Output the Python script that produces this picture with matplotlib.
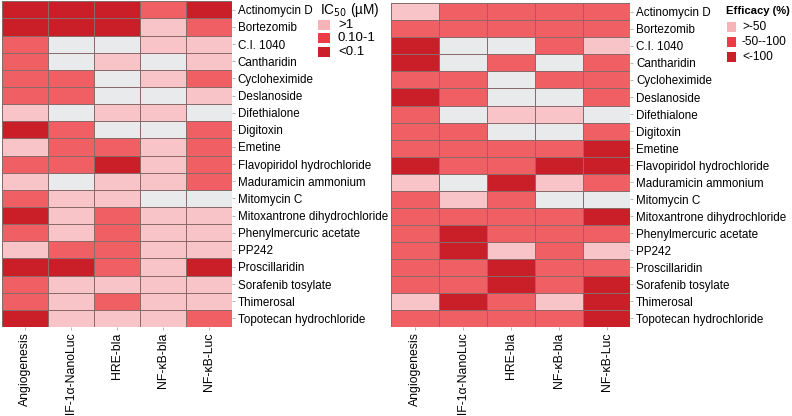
import numpy as np
import matplotlib.pyplot as plt
from matplotlib.colors import ListedColormap
from matplotlib.patches import Rectangle

plt.rcParams['font.family'] = ['Liberation Sans', 'DejaVu Sans']

compounds = ['Actinomycin D', 'Bortezomib', 'C.I. 1040', 'Cantharidin', 'Cycloheximide',
             'Deslanoside', 'Difethialone', 'Digitoxin', 'Emetine', 'Flavopiridol hydrochloride',
             'Maduramicin ammonium', 'Mitomycin C', 'Mitoxantrone dihydrochloride',
             'Phenylmercuric acetate', 'PP242', 'Proscillaridin', 'Sorafenib tosylate',
             'Thimerosal', 'Topotecan hydrochloride']
assays = ['Angiogenesis', 'HIF-1\u03b1-NanoLuc', 'HRE-bla', 'NF-\u03baB-bla', 'NF-\u03baB-Luc']

# 0 = no data, 1 = weak, 2 = medium, 3 = strong
ic50 = [[3, 3, 3, 2, 3],
        [3, 3, 3, 1, 2],
        [2, 0, 0, 1, 1],
        [2, 0, 1, 0, 1],
        [2, 2, 0, 1, 2],
        [2, 2, 0, 0, 1],
        [1, 0, 1, 1, 0],
        [3, 2, 0, 0, 2],
        [1, 2, 2, 1, 2],
        [2, 2, 3, 1, 2],
        [1, 0, 1, 1, 2],
        [2, 1, 1, 0, 0],
        [3, 1, 2, 1, 1],
        [2, 1, 2, 1, 1],
        [1, 2, 2, 1, 1],
        [3, 3, 2, 1, 3],
        [2, 1, 1, 1, 1],
        [2, 1, 2, 1, 1],
        [3, 1, 1, 1, 2]]

efficacy = [[1, 2, 2, 2, 2],
            [2, 2, 2, 2, 2],
            [3, 0, 0, 2, 1],
            [3, 0, 2, 0, 2],
            [2, 2, 0, 2, 2],
            [3, 2, 0, 0, 2],
            [2, 0, 1, 1, 0],
            [2, 2, 0, 0, 2],
            [2, 2, 2, 2, 3],
            [3, 2, 2, 3, 3],
            [1, 0, 3, 1, 2],
            [2, 1, 2, 0, 0],
            [2, 2, 2, 2, 3],
            [2, 3, 2, 2, 2],
            [2, 3, 1, 2, 1],
            [2, 2, 3, 2, 2],
            [2, 2, 3, 2, 3],
            [1, 3, 2, 1, 3],
            [2, 2, 2, 2, 3]]

ic50_labels = ['>1', '0.10-1', '<0.1']
eff_labels = ['>-50', '-50--100', '<-100']

colors = ['#E9EAEB', '#F9C4C8', '#EF5F64', '#CA1F28']
legend_colors = ['#F6B3B8', '#EC3C45', '#CB1F2A']
cmap = ListedColormap(colors)

W, H = 792, 416
fig = plt.figure(figsize=(W / 100, H / 100), dpi=100)
ax1 = fig.add_axes([0.002, 0.214, 0.291, 0.783])
ax2 = fig.add_axes([0.494, 0.214, 0.302, 0.778])


def draw(ax, data):
    d = np.array(data)
    ax.pcolormesh(d, cmap=cmap, vmin=-0.5, vmax=3.5, edgecolors='#8a6a6a', linewidth=0.6)
    ax.set_xlim(0, d.shape[1])
    ax.set_ylim(d.shape[0], 0)
    ax.set_xticks(np.arange(d.shape[1]) + 0.5)
    ax.set_xticklabels(assays, rotation=90, fontsize=8.8)
    ax.set_yticks(np.arange(d.shape[0]) + 0.5)
    ax.set_yticklabels(compounds, fontsize=8.4)
    ax.yaxis.tick_right()
    ax.tick_params(axis='both', length=2, width=0.5, color='#999999', pad=2)
    for s in ax.spines.values():
        s.set_visible(False)


def legend(title, labels, x, pw, tx, ys, ty, lx, bold, tfs, fs):
    # positions given in pixels from the top-left corner
    fig.text(tx / W, 1 - ty / H, title, fontsize=tfs,
             fontweight='bold' if bold else 'normal', va='center', ha='left')
    for i, lab in enumerate(labels):
        fig.patches.append(Rectangle((x / W, 1 - (ys[i] + 5) / H), pw / W, 10 / H,
                                     transform=fig.transFigure, facecolor=legend_colors[i],
                                     edgecolor='none'))
        fig.text(lx / W, 1 - ys[i] / H, lab, fontsize=fs, va='center', ha='left')


draw(ax1, ic50)
draw(ax2, efficacy)

legend('IC$_{50}$ (\u00b5M)', ic50_labels, 318, 12, 320, [25, 38, 52], 10, 338, False, 9.8, 9.5)
legend('Efficacy (%)', eff_labels, 727, 9, 726, [27, 42, 57], 11, 742, True, 8.1, 8.6)

fig.savefig('out.png', dpi=100)
